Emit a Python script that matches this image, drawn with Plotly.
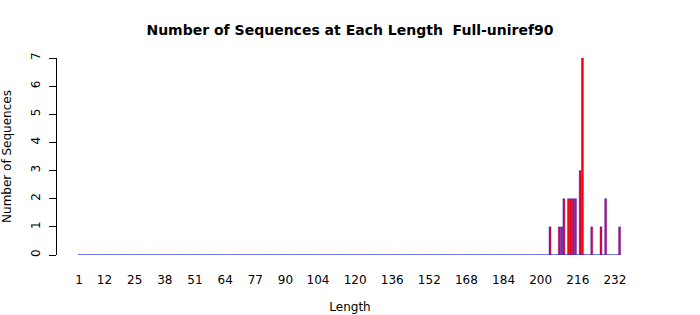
import plotly.graph_objects as go

# Data: sequence lengths 1..234 and counts (non-zero entries)
lengths = list(range(1, 235))
nonzero_lengths = [204, 208, 209, 210, 212, 213, 214, 215, 217, 218, 222, 226, 228, 234]
nonzero_counts = [1, 1, 1, 2, 2, 2, 2, 2, 3, 7, 1, 1, 2, 1]
count_map = dict(zip(nonzero_lengths, nonzero_counts))
counts = [count_map.get(L, 0) for L in lengths]

x_tick_vals = [1, 12, 25, 38, 51, 64, 77, 90, 104, 120, 136, 152, 168, 184, 200, 216, 232]
y_tick_vals = [0, 1, 2, 3, 4, 5, 6, 7]

title_text = "Number of Sequences at Each Length  Full-uniref90"
FONT = "DejaVu Sans"

fig = go.Figure()
fig.add_trace(go.Bar(
    x=lengths, y=counts, width=0.833,
    marker=dict(color="#FF0000", line=dict(color="rgba(0,0,255,0.6)", width=0.6)),
    showlegend=False,
))

fig.add_shape(type="line", xref="x", yref="y",
              x0=lengths[0] - 0.45, x1=lengths[-1] + 0.45, y0=0, y1=0,
              line=dict(color="#3333DD", width=1))

fig.update_layout(
    width=700, height=315,
    margin=dict(l=57, r=57, t=58, b=60, autoexpand=False),
    paper_bgcolor="white", plot_bgcolor="white",
    font=dict(family=FONT, size=12, color="black"),
    title=dict(text="<b>" + title_text + "</b>", x=0.5, xanchor="center",
               y=1 - 30 / 315, yanchor="middle", font=dict(size=14, family=FONT)),
    bargap=1/6,
)
fig.update_xaxes(
    range=[-8.48, 244.1], tickmode="array", tickvals=x_tick_vals,
    ticktext=[str(v) for v in x_tick_vals],
    ticks="outside", ticklen=14, tickcolor="rgba(0,0,0,0)",
    showgrid=False, zeroline=False, showline=False, automargin=False,
    title=dict(text="Length", standoff=16, font=dict(size=12)),
)
fig.update_yaxes(
    range=[0, 7], tickmode="array", tickvals=y_tick_vals,
    ticks="outside", ticklen=7, tickcolor="black", tickwidth=1,
    tickangle=-90, showgrid=False, zeroline=False, automargin=False,
    ticklabelstandoff=4,
    showline=True, linecolor="black", linewidth=1,
    title=dict(text="Number of Sequences", standoff=16, font=dict(size=12)),
)

fig.write_html("out.html")
